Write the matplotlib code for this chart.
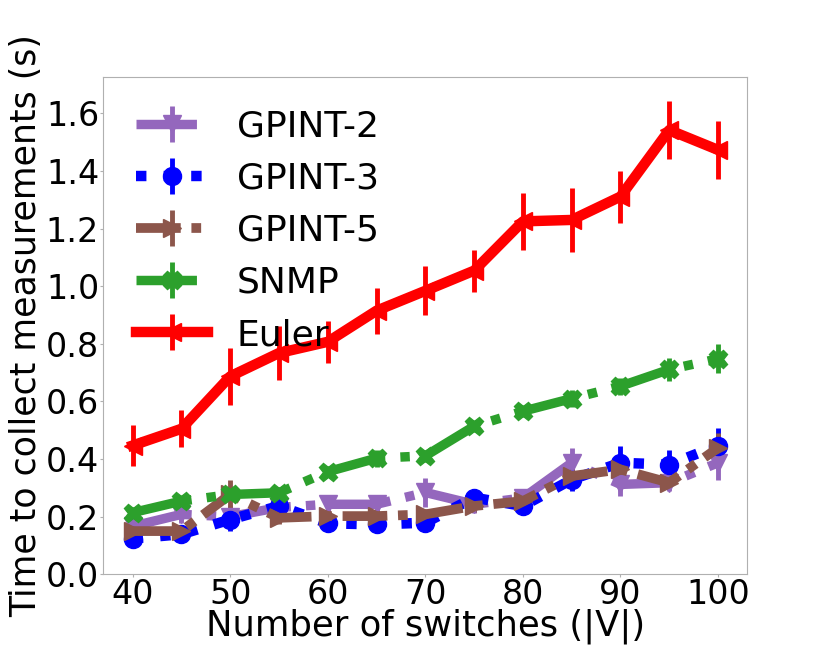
import matplotlib
matplotlib.use('Agg')
import matplotlib.pyplot as plt

switches = [40, 45, 50, 55, 60, 65, 70, 75, 80, 85, 90, 95, 100]

gpint2 = [0.167, 0.208, 0.20, 0.232, 0.243, 0.243, 0.284, 0.243, 0.265, 0.387, 0.312, 0.318, 0.387]
gpint2_err = [0.02, 0.03, 0.04, 0.03, 0.03, 0.03, 0.05, 0.03, 0.03, 0.05, 0.04, 0.03, 0.06]
gpint3 = [0.124, 0.139, 0.19, 0.237, 0.177, 0.173, 0.179, 0.266, 0.237, 0.329, 0.387, 0.381, 0.447]
gpint3_err = [0.02, 0.02, 0.04, 0.03, 0.02, 0.02, 0.02, 0.03, 0.03, 0.04, 0.06, 0.05, 0.06]
gpint5 = [0.15, 0.15, 0.277, 0.196, 0.202, 0.202, 0.208, 0.237, 0.254, 0.341, 0.364, 0.318, 0.439]
gpint5_err = [0.02, 0.02, 0.05, 0.02, 0.02, 0.02, 0.02, 0.02, 0.02, 0.03, 0.03, 0.02, 0.05]
snmp = [0.214, 0.254, 0.277, 0.283, 0.356, 0.403, 0.411, 0.514, 0.566, 0.61, 0.653, 0.711, 0.748]
snmp_err = [0.02, 0.02, 0.02, 0.02, 0.02, 0.03, 0.02, 0.02, 0.02, 0.03, 0.03, 0.04, 0.05]
euler = [0.447, 0.505, 0.687, 0.768, 0.807, 0.915, 0.984, 1.054, 1.225, 1.23, 1.311, 1.542, 1.473]
euler_err = [0.072, 0.064, 0.10, 0.095, 0.073, 0.08, 0.085, 0.073, 0.10, 0.11, 0.09, 0.10, 0.10]

plt.rcParams['font.family'] = ['DejaVu Sans']
fig, ax = plt.subplots(figsize=(8.3, 6.46), dpi=100)
fig.subplots_adjust(left=0.1245, right=0.9004, top=0.8803, bottom=0.111)

ax.errorbar(switches, gpint2, yerr=gpint2_err, color='tab:purple', linestyle='-.',
            marker='v', markersize=13, linewidth=6.8, elinewidth=3.5, label='GPINT-2')
ax.errorbar(switches, gpint3, yerr=gpint3_err, color='blue', linestyle=':',
            marker='o', markersize=13, linewidth=7.5, elinewidth=3.5, label='GPINT-3')
ax.errorbar(switches, gpint5, yerr=gpint5_err, color='tab:brown',
            linestyle=(0, (4.6, 1.1, 1, 1.1)),
            marker='>', markersize=13, linewidth=7, elinewidth=3.5, label='GPINT-5')
ax.errorbar(switches, snmp, yerr=snmp_err, color='tab:green', linestyle='-.',
            marker='X', markersize=13, linewidth=6.8, elinewidth=3.5, label='SNMP')
ax.errorbar(switches, euler, yerr=euler_err, color='red', linestyle='-',
            marker='<', markersize=13, linewidth=7.5, elinewidth=3.5, label='Euler')

ax.set_ylim(0, 1.725)
ax.set_xticks([40, 50, 60, 70, 80, 90, 100])
ax.set_yticks([0.0, 0.2, 0.4, 0.6, 0.8, 1.0, 1.2, 1.4, 1.6])
ax.tick_params(labelsize=24, colors='#b0b0b0', labelcolor='black', length=2, pad=1)
for s in ax.spines.values():
    s.set_color('#b0b0b0')
ax.set_xlabel('Number of switches (|V|)', fontsize=25.5, labelpad=-2)
ax.set_ylabel('Time to collect measurements (s)', fontsize=25, labelpad=2)
ax.legend(loc='upper left', fontsize=26, frameon=False)

plt.savefig('out.png')
